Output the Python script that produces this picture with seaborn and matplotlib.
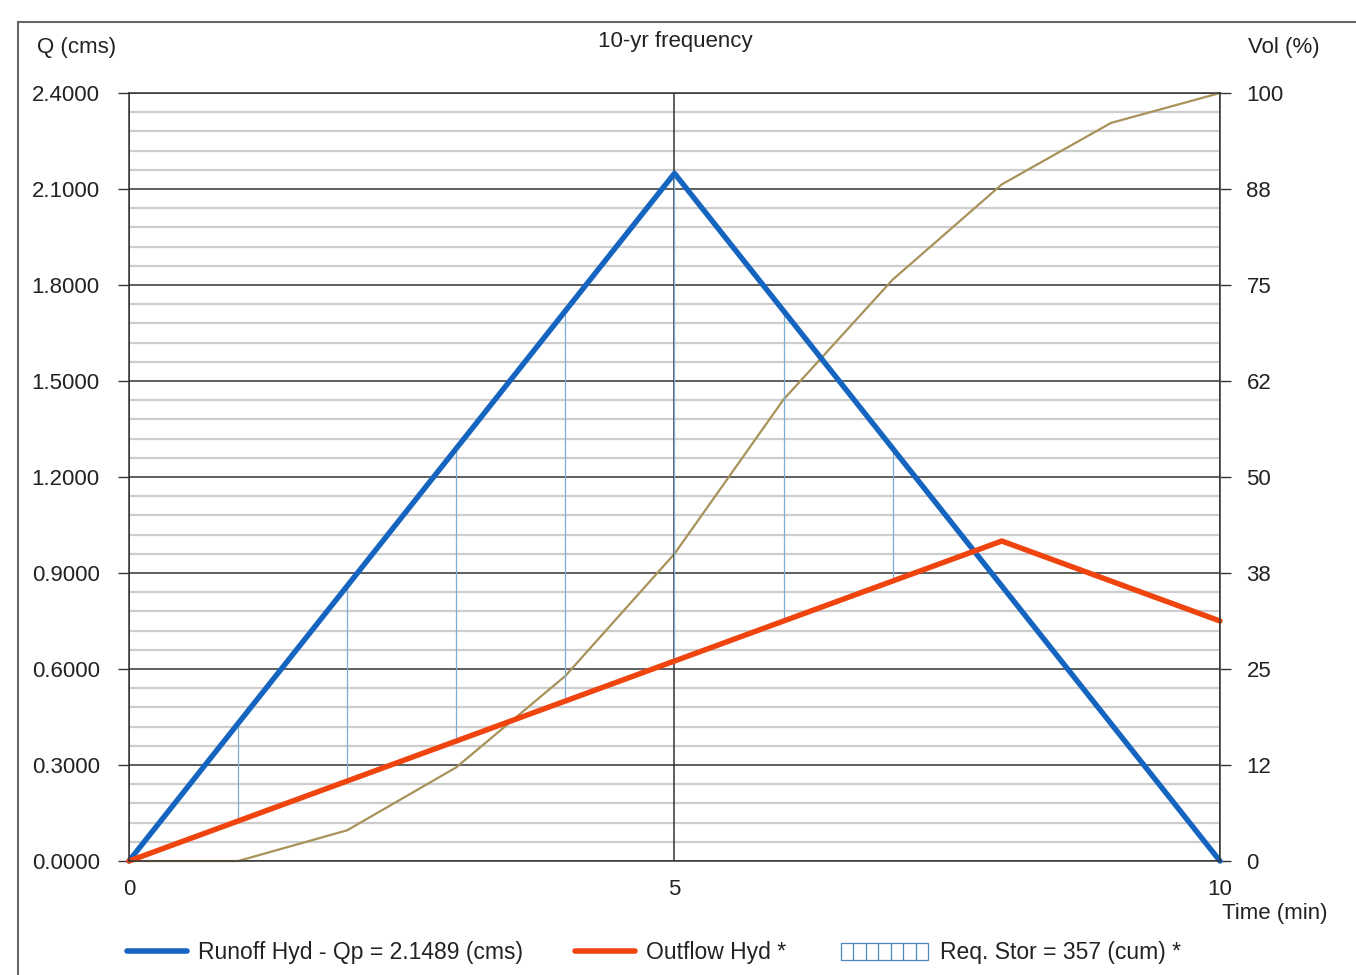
import numpy as np
import pandas as pd
import seaborn as sns
import matplotlib.pyplot as plt
from matplotlib.lines import Line2D
from matplotlib.patches import Patch, PathPatch, Rectangle
from matplotlib.path import Path
from matplotlib.legend_handler import HandlerPatch

time = [0, 1, 2, 3, 4, 5, 6, 7, 8, 9, 10]
runoff = [0.0, 0.4298, 0.8596, 1.2893, 1.7191, 2.1489, 1.7191, 1.2893, 0.8596, 0.4298, 0.0]
outflow = [0.0, 0.125, 0.25, 0.375, 0.5, 0.625, 0.75, 0.875, 1.0, 0.875, 0.75]
vol_pct = [0.0, 0.0, 4.0, 12.2, 24.1, 40.0, 60.1, 75.7, 88.1, 96.1, 100.0]

q_ticks = [0.0, 0.3, 0.6, 0.9, 1.2, 1.5, 1.8, 2.1, 2.4]
vol_ticks = [0, 12.5, 25, 37.5, 50, 62.5, 75, 87.5, 100]
vol_labels = ['0', '12', '25', '38', '50', '62', '75', '88', '100']
time_ticks = [0, 5, 10]
legend_labels = ['Runoff Hyd - Qp = 2.1489 (cms)', 'Outflow Hyd *', 'Req. Stor = 357 (cum) *']

df = pd.DataFrame({'Time': time, 'Runoff': runoff, 'Outflow': outflow, 'Vol': vol_pct})

# Colours
c_run = '#1565c0'
c_out = '#f0440f'
c_vol = '#a8925a'
c_stor = '#7eaed6'
c_text = '#222222'

sns.set_style('white')
plt.rcParams['font.family'] = ['Liberation Sans', 'DejaVu Sans']

fig = plt.figure(figsize=(13.56, 9.75), dpi=100)
ax = fig.add_axes([0.0951, 0.1169, 0.8046, 0.7877])
ax2 = ax.twinx()
ax.set_zorder(ax2.get_zorder() + 1)
ax.patch.set_visible(False)

# grid lives on the volume axis, underneath everything
ax2.set_ylim(0, 100)
ax2.set_yticks(vol_ticks, vol_labels)
ax2.set_yticks(np.arange(0, 100.1, 2.5), minor=True)
ax2.grid(which='major', axis='y', color='#333333', lw=1.1)
ax2.grid(which='minor', axis='y', color='#cdcdcd', lw=1.6)
ax2.tick_params(axis='y', which='major', right=True, length=8, width=1, color='#333333',
                labelcolor=c_text, pad=11, labelsize=16)
ax2.tick_params(axis='y', which='minor', length=0)
for s in ax2.spines.values():
    s.set_visible(False)

sns.lineplot(data=df, x='Time', y='Vol', ax=ax2, color=c_vol, lw=1.6, clip_on=False)
ax2.set_ylabel('')

# storage: vertical lines where runoff exceeds outflow
stor = df[df['Runoff'] > df['Outflow']]
ax.vlines(stor['Time'], stor['Outflow'], stor['Runoff'], color=c_stor, lw=0.9, zorder=1.5)

sns.lineplot(data=df, x='Time', y='Runoff', ax=ax, color=c_run, lw=3.9, clip_on=False)
sns.lineplot(data=df, x='Time', y='Outflow', ax=ax, color=c_out, lw=3.9, clip_on=False)

ax.set_xlim(0, 10)
ax.set_ylim(0, 2.4)
ax.set_xlabel('')
ax.set_ylabel('')
ax.set_yticks(q_ticks)
ax.yaxis.set_major_formatter('{x:.4f}')
ax.set_xticks(time_ticks)
ax.grid(axis='x', color='#333333', lw=1.1)
ax.tick_params(axis='y', left=True, length=8, width=1, color='#333333',
               labelcolor=c_text, pad=13, labelsize=16)
ax.tick_params(axis='x', length=0, pad=13, labelsize=16, labelcolor=c_text)
for side in ['left', 'right', 'bottom', 'top']:
    ax.spines[side].set_visible(True)
    ax.spines[side].set_color('#333333')
    ax.spines[side].set_linewidth(1.1)

# texts
fig.text(37 / 1356, 1 - 48 / 975, 'Q (cms)', fontsize=16, color=c_text, va='center', ha='left')
fig.text(1248 / 1356, 1 - 48 / 975, 'Vol (%)', fontsize=16, color=c_text, va='center', ha='left')
fig.text(675 / 1356, 1 - 42 / 975, '10-yr frequency', fontsize=16, color=c_text, va='center', ha='center')
fig.text(1222 / 1356, 1 - 913 / 975, 'Time (min)', fontsize=16, color=c_text, va='center', ha='left')


# storage legend key: box split into vertical cells
def stor_box(legend, orig_handle, xdescent, ydescent, width, height, fontsize):
    x0, y0 = -xdescent, -ydescent
    verts = [(x0, y0), (x0 + width, y0), (x0 + width, y0 + height), (x0, y0 + height), (x0, y0)]
    codes = [Path.MOVETO, Path.LINETO, Path.LINETO, Path.LINETO, Path.CLOSEPOLY]
    for i in range(1, 7):
        x = x0 + width * i / 7
        verts += [(x, y0), (x, y0 + height)]
        codes += [Path.MOVETO, Path.LINETO]
    return PathPatch(Path(verts, codes))


leg_y = 1 - 953 / 975
leg_kw = dict(loc='center left', frameon=False, fontsize=16.5, handletextpad=0.5,
              borderpad=0, borderaxespad=0, labelcolor=c_text)
fig.legend([Line2D([], [], color=c_run, lw=4)], legend_labels[:1],
           bbox_to_anchor=(127 / 1356, leg_y), handlelength=2.6, **leg_kw)
fig.legend([Line2D([], [], color=c_out, lw=4)], legend_labels[1:2],
           bbox_to_anchor=(575 / 1356, leg_y), handlelength=2.6, **leg_kw)
fig.legend([Patch(facecolor='white', edgecolor='#4f86c0', lw=0.9)], legend_labels[2:],
           bbox_to_anchor=(841 / 1356, leg_y), handlelength=3.8,
           handler_map={Patch: HandlerPatch(patch_func=stor_box)}, **leg_kw)

# outer frame
fig.add_artist(Rectangle((18 / 1356, -0.1), 1.1, 1.1 - 22 / 975, transform=fig.transFigure,
                         fill=False, edgecolor='#666666', lw=1.5))

fig.savefig('out.png', dpi=100)
